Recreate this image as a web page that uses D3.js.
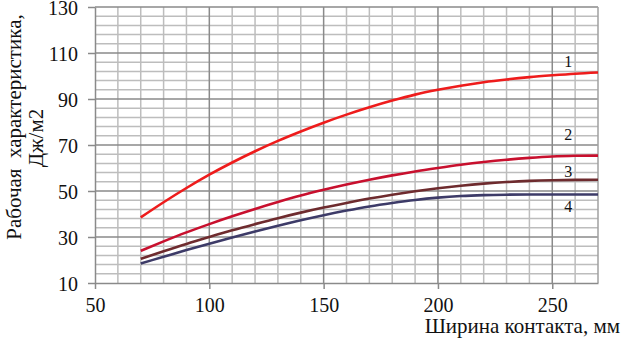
<!DOCTYPE html>
<html>
<head>
<meta charset="utf-8">
<script src="https://cdn.jsdelivr.net/npm/d3@7"></script>
<style>
  body { margin: 0; background: #fff; }
  svg { display: block; }
  svg text { font-family: "Liberation Serif", "DejaVu Serif", "Noto Serif", "FreeSerif", "Times New Roman", serif; }
</style>
</head>
<body>
<svg id="chart" width="621" height="338"></svg>
<script>
const widths = [70, 80, 90, 100, 110, 120, 130, 140, 150, 160, 170, 180, 190, 200, 210, 220, 230, 240, 250, 260, 270];
const curve1 = [38.5, 45.1, 51.3, 57.1, 62.4, 67.3, 71.8, 75.9, 79.7, 83.2, 86.4, 89.3, 91.9, 94.0, 95.8, 97.3, 98.5, 99.5, 100.3, 101.0, 101.5];
const curve2 = [24, 28.1, 32.0, 35.6, 39.0, 42.2, 45.2, 48.0, 50.5, 52.8, 54.9, 56.8, 58.5, 60.0, 61.4, 62.6, 63.6, 64.4, 65.0, 65.3, 65.4];
const curve3 = [20.5, 23.8, 27.0, 30.0, 32.9, 35.6, 38.2, 40.6, 42.8, 44.8, 46.7, 48.4, 49.9, 51.2, 52.3, 53.2, 53.9, 54.4, 54.7, 54.85, 54.9];
const curve4 = [18.5, 21.4, 24.3, 27.1, 29.8, 32.4, 34.9, 37.3, 39.5, 41.5, 43.3, 44.8, 46.1, 47.1, 47.8, 48.2, 48.4, 48.5, 48.5, 48.5, 48.5];
const curveNames = ["1", "2", "3", "4"];
const labelValues = [106.5, 74.6, 58.6, 43.5];
const xTicks = [50, 100, 150, 200, 250];
const yTicks = [10, 30, 50, 70, 90, 110, 130];

const width = 621;
const height = 338;
const marginTop = 7;
const marginRight = 23;
const marginLeft = 95;
const marginBottom = 55;

const svg = d3.select("#chart");

const x = d3.scaleLinear()
  .domain([50, 270])
  .range([marginLeft, width - marginRight]);

const y = d3.scaleLinear()
  .domain([10, 130])
  .range([height - marginBottom, marginTop]);

// minor grid
svg.append("g")
  .selectAll("line")
  .data(d3.range(60, 270, 10).filter(d => d % 50 !== 0))
  .join("line")
  .attr("x1", d => x(d)).attr("x2", d => x(d))
  .attr("y1", y(10)).attr("y2", y(130))
  .attr("stroke", "#bdbdbd").attr("stroke-width", 1.5);

svg.append("g")
  .selectAll("line")
  .data(d3.range(14, 130, 4).filter(d => (d - 10) % 20 !== 0))
  .join("line")
  .attr("x1", x(50)).attr("x2", x(270))
  .attr("y1", d => y(d)).attr("y2", d => y(d))
  .attr("stroke", "#bdbdbd").attr("stroke-width", 1.5);

// major grid
svg.append("g")
  .selectAll("line")
  .data(xTicks.slice(1))
  .join("line")
  .attr("x1", d => x(d)).attr("x2", d => x(d))
  .attr("y1", y(10)).attr("y2", y(130))
  .attr("stroke", "#8a8a8a").attr("stroke-width", 1.5);

svg.append("g")
  .selectAll("line")
  .data(yTicks.slice(1))
  .join("line")
  .attr("x1", x(50)).attr("x2", x(270))
  .attr("y1", d => y(d)).attr("y2", d => y(d))
  .attr("stroke", "#8a8a8a").attr("stroke-width", 1.5);

// right border
svg.append("line")
  .attr("x1", x(270)).attr("x2", x(270))
  .attr("y1", y(10)).attr("y2", y(130))
  .attr("stroke", "#a0a0a0").attr("stroke-width", 1.5);

// axes
const xAxis = svg.append("g")
  .attr("transform", `translate(0,${height - marginBottom})`)
  .call(d3.axisBottom(x).tickValues(xTicks).tickSize(6).tickPadding(7).tickSizeOuter(0));

const yAxis = svg.append("g")
  .attr("transform", `translate(${marginLeft},0)`)
  .call(d3.axisLeft(y).tickValues(yTicks).tickSize(7).tickPadding(10).tickSizeOuter(0));

[xAxis, yAxis].forEach(g => {
  g.attr("font-family", null).attr("font-size", null);
  g.selectAll("path").attr("stroke", "#8a8a8a").attr("stroke-width", 1.5);
  g.selectAll(".tick line").attr("stroke", "#8a8a8a").attr("stroke-width", 1.5);
  g.selectAll("text")
    .attr("fill", "#111")
    .style("font-size", "20px");
});
yAxis.selectAll("text").attr("dy", "0.36em");
xAxis.selectAll("text").attr("dy", "0.8em");

// curves
const series = [
  { name: curveNames[0], values: curve1, color: "#ee1c1c" },
  { name: curveNames[1], values: curve2, color: "#c8102e" },
  { name: curveNames[2], values: curve3, color: "#6e2b2e" },
  { name: curveNames[3], values: curve4, color: "#3d3b68" },
];

const line = d3.line()
  .x((d, i) => x(widths[i]))
  .y(d => y(d))
  .curve(d3.curveMonotoneX);

svg.append("g")
  .selectAll("path")
  .data(series)
  .join("path")
  .attr("fill", "none")
  .attr("stroke", d => d.color)
  .attr("stroke-width", 2.6)
  .attr("d", d => line(d.values));

// curve labels
svg.append("g")
  .selectAll("text")
  .data(series)
  .join("text")
  .attr("x", x(257))
  .attr("y", (d, i) => y(labelValues[i]))
  .attr("dy", "0.35em")
  .attr("text-anchor", "middle")
  .attr("fill", "#111")
  .style("font-size", "16px")
  .text(d => d.name);

// axis titles
svg.append("text")
  .attr("x", width - 1)
  .attr("y", 333)
  .attr("text-anchor", "end")
  .attr("fill", "#111")
  .style("font-size", "21px")
  .text("Ширина контакта, мм");

const yTitle = svg.append("text")
  .attr("transform", "rotate(-90)")
  .attr("text-anchor", "middle")
  .attr("fill", "#111")
  .style("font-size", "21px");

yTitle.append("tspan")
  .attr("x", -127)
  .attr("y", 21)
  .attr("xml:space", "preserve")
  .style("white-space", "pre")
  .text("Рабочая  характеристика,");

yTitle.append("tspan")
  .attr("x", -138)
  .attr("y", 43)
  .text("Дж/м2");
</script>
</body>
</html>
